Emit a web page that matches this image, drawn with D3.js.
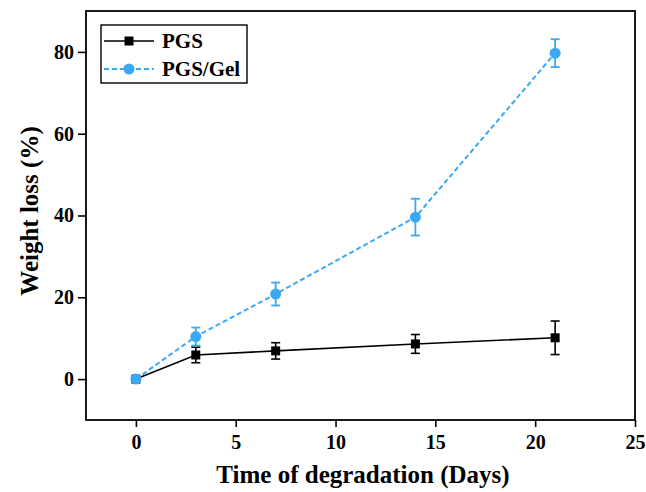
<!DOCTYPE html>
<html>
<head>
<meta charset="utf-8">
<script src="https://cdn.jsdelivr.net/npm/d3@7"></script>
<style>
  html, body { margin: 0; padding: 0; background: #fff; }
  svg text { font-family: "Liberation Serif", "Times New Roman", serif; font-weight: bold; fill: #000; }
</style>
</head>
<body>
<svg id="chart" width="646" height="492"></svg>
<script>
const days = [0, 3, 7, 14, 21];
const pgsValues = [0, 5.9, 6.9, 8.6, 10.1];
const pgsErrors = [0, 1.9, 2.0, 2.3, 4.1];
const gelValues = [0, 10.4, 20.8, 39.6, 79.7];
const gelErrors = [0, 2.2, 2.8, 4.5, 3.4];
const xTicks = [0, 5, 10, 15, 20, 25];
const yTicks = [0, 20, 40, 60, 80];
const seriesNames = ["PGS", "PGS/Gel"];
const xTitle = "Time of degradation (Days)";
const yTitle = "Weight loss (%)";

const blue = "#3AA8F2";
const svg = d3.select("#chart");
const m = { left: 86, top: 11, right: 635, bottom: 420 };

const x = d3.scaleLinear().domain([-2.5, 25]).range([m.left, m.right]);
const y = d3.scaleLinear().domain([-10, 90]).range([m.bottom, m.top]);

// Axes
const xAxis = svg.append("g").attr("transform", `translate(0,${m.bottom})`)
  .call(d3.axisBottom(x).tickValues(xTicks).tickSize(7).tickPadding(8).tickFormat(d3.format("d")));
const yAxis = svg.append("g").attr("transform", `translate(${m.left},0)`)
  .call(d3.axisLeft(y).tickValues(yTicks).tickSize(8).tickPadding(4).tickFormat(d3.format("d")));
[xAxis, yAxis].forEach(g => {
  g.select(".domain").remove();
  g.selectAll(".tick line").attr("stroke", "#000").attr("stroke-width", 1.6);
  g.selectAll(".tick text").style("font-size", "20px").attr("fill", "#000");
});
xAxis.selectAll(".tick text").attr("dy", "0.71em");

// Frame
svg.append("rect").attr("x", m.left).attr("y", m.top)
  .attr("width", m.right - m.left).attr("height", m.bottom - m.top)
  .attr("fill", "none").attr("stroke", "#000").attr("stroke-width", 1.8);

// Axis titles
svg.append("text").attr("x", 363).attr("y", 483).attr("text-anchor", "middle")
  .style("font-size", "25px").text(xTitle);
svg.append("text").attr("transform", "translate(38,211) rotate(-90)").attr("text-anchor", "middle")
  .style("font-size", "25px").text(yTitle);

const pgs = days.map((d, i) => ({ x: d, y: pgsValues[i], e: pgsErrors[i] }));
const gel = days.map((d, i) => ({ x: d, y: gelValues[i], e: gelErrors[i] }));
const line = d3.line().x(d => x(d.x)).y(d => y(d.y));

function drawErr(data, color, w) {
  const g = svg.append("g").attr("stroke", color).attr("stroke-width", w);
  data.filter(d => d.e > 0).forEach(d => {
    g.append("line").attr("x1", x(d.x)).attr("x2", x(d.x)).attr("y1", y(d.y - d.e)).attr("y2", y(d.y + d.e));
    g.append("line").attr("x1", x(d.x) - 4.5).attr("x2", x(d.x) + 4.5).attr("y1", y(d.y - d.e)).attr("y2", y(d.y - d.e));
    g.append("line").attr("x1", x(d.x) - 4.5).attr("x2", x(d.x) + 4.5).attr("y1", y(d.y + d.e)).attr("y2", y(d.y + d.e));
  });
}

// PGS
svg.append("path").datum(pgs).attr("d", line).attr("fill", "none").attr("stroke", "#000").attr("stroke-width", 1.6);
drawErr(pgs, "#000", 1.6);
svg.append("g").selectAll("rect").data(pgs).join("rect")
  .attr("x", d => x(d.x) - 4.5).attr("y", d => y(d.y) - 4.5).attr("width", 9).attr("height", 9).attr("fill", "#000");

// PGS/Gel
svg.append("path").datum(gel).attr("d", line).attr("fill", "none").attr("stroke", blue)
  .attr("stroke-width", 2).attr("stroke-dasharray", "5,3");
drawErr(gel, blue, 1.8);
svg.append("g").selectAll("circle").data(gel).join("circle")
  .attr("cx", d => x(d.x)).attr("cy", d => y(d.y)).attr("r", 5.5).attr("fill", blue);

// Legend
const lg = svg.append("g");
lg.append("rect").attr("x", 101).attr("y", 25).attr("width", 146).attr("height", 58)
  .attr("fill", "#fff").attr("stroke", "#000").attr("stroke-width", 1.4);
lg.append("line").attr("x1", 104).attr("x2", 154).attr("y1", 41).attr("y2", 41).attr("stroke", "#000").attr("stroke-width", 1.6);
lg.append("rect").attr("x", 124.5).attr("y", 36.5).attr("width", 9).attr("height", 9).attr("fill", "#000");
lg.append("line").attr("x1", 104).attr("x2", 154).attr("y1", 69).attr("y2", 69).attr("stroke", blue)
  .attr("stroke-width", 2).attr("stroke-dasharray", "5,3");
lg.append("circle").attr("cx", 129).attr("cy", 69).attr("r", 5.5).attr("fill", blue);
lg.append("text").attr("x", 162).attr("y", 48).style("font-size", "21px").text(seriesNames[0]);
lg.append("text").attr("x", 162).attr("y", 76).style("font-size", "21px").text(seriesNames[1]);
</script>
</body>
</html>
